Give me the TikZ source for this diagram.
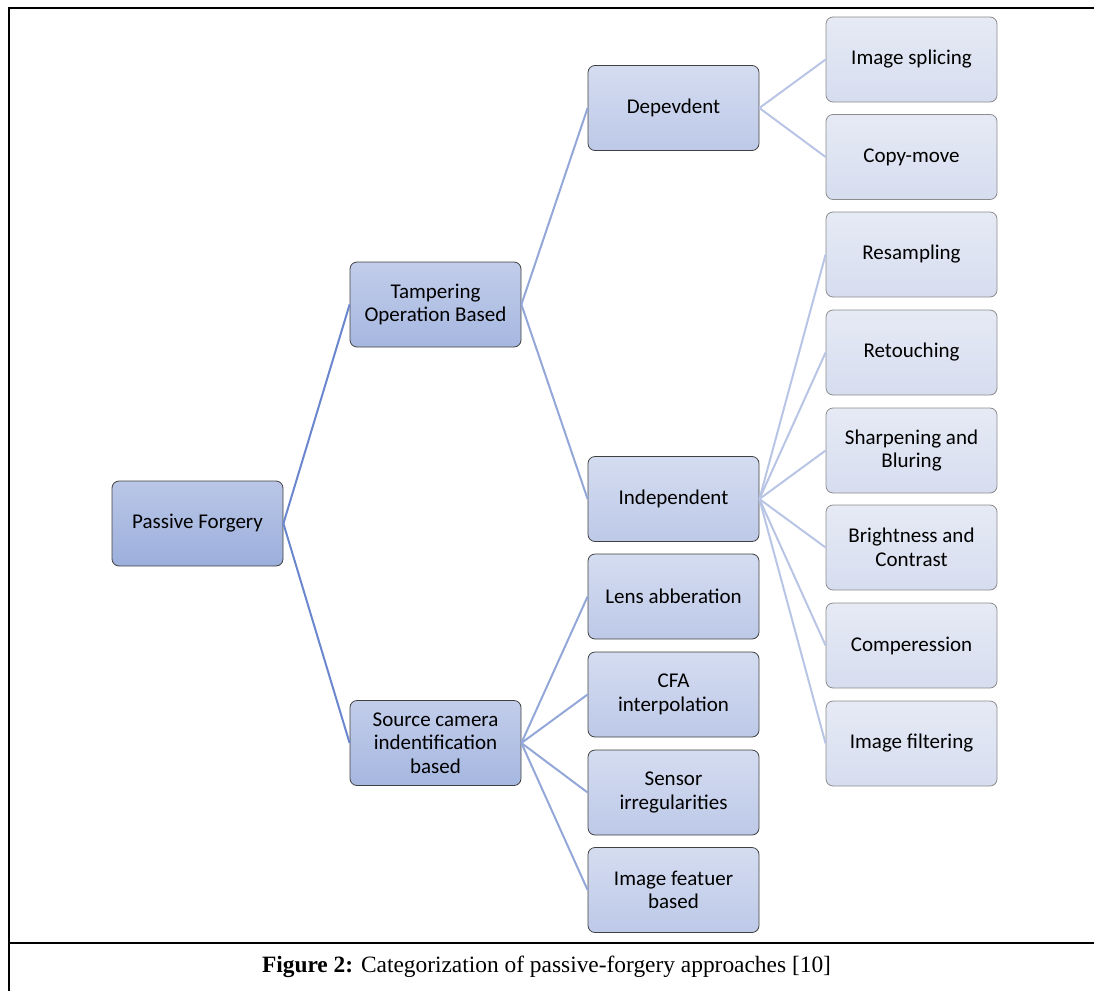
\documentclass[tikz,border=0pt]{standalone}
\usepackage{fontspec}
\setmainfont{Liberation Serif}
\newfontfamily\calib{Carlito}
\definecolor{cZt}{HTML}{B9C6E6}
\definecolor{cZb}{HTML}{9CAFDC}
\definecolor{cOt}{HTML}{C2CDEA}
\definecolor{cOb}{HTML}{A6B7E0}
\definecolor{cTt}{HTML}{D4DCF0}
\definecolor{cTb}{HTML}{BDC9E8}
\definecolor{cHt}{HTML}{E6EAF5}
\definecolor{cHb}{HTML}{D6DDEF}
\definecolor{lA}{HTML}{6A87CE}
\definecolor{lB}{HTML}{94A7D9}
\definecolor{lC}{HTML}{B9C5E5}
\begin{document}
\begin{tikzpicture}[x=1pt,y=-1pt,
  box/.style={rounded corners=7pt, minimum width=171pt, minimum height=85pt,
    align=center, inner sep=0pt, font=\calib\fontsize{21}{23.6}\selectfont,
    draw=black!75, line width=0.8pt},
  lvZ/.style={box, top color=cZt, bottom color=cZb},
  lvO/.style={box, top color=cOt, bottom color=cOb},
  lvT/.style={box, top color=cTt, bottom color=cTb},
  lvH/.style={box, top color=cHt, bottom color=cHb, draw=black!45},
  conA/.style={draw=lA, line width=2pt},
  conB/.style={draw=lB, line width=2pt},
  conC/.style={draw=lC, line width=2pt},
  frame/.style={line width=2.8pt, line cap=rect}
]
\useasboundingbox (0,0) rectangle (1094,990);

% frame
\coordinate (ftl) at (9,8);
\coordinate (ftr) at (1094,8);
\coordinate (fbl) at (9,990);
\coordinate (fsl) at (9,943);
\coordinate (fsr) at (1094,943);
\draw[frame] (fbl) -- (ftl) -- (ftr);
\draw[frame] (fsl) -- (fsr);

% level 0
\node[lvZ] (pf) at (197.5,523.5) {Passive Forgery};
% level 1
\node[lvO] (tob) at (435.5,304.5) {Tampering\\Operation Based};
\node[lvO] (sci) at (435.5,743) {Source camera\\indentification\\based};
% level 2
\node[lvT] (dep) at (673.5,108) {Depevdent};
\node[lvT] (ind) at (673.5,499) {Independent};
\node[lvT] (lens) at (673.5,596.5) {Lens abberation};
\node[lvT] (cfa) at (673.5,694.5) {CFA\\interpolation};
\node[lvT] (sens) at (673.5,792.5) {Sensor\\irregularities};
\node[lvT] (feat) at (673.5,890) {Image featuer\\based};
% level 3
\node[lvH] (spl) at (911.5,59.5) {Image splicing};
\node[lvH] (cpm) at (911.5,157) {Copy-move};
\node[lvH] (res) at (911.5,254.5) {Resampling};
\node[lvH] (ret) at (911.5,352.5) {Retouching};
\node[lvH] (shp) at (911.5,450.5) {Sharpening and\\Bluring};
\node[lvH] (bri) at (911.5,547.5) {Brightness and\\Contrast};
\node[lvH] (cmp) at (911.5,645.5) {Comperession};
\node[lvH] (flt) at (911.5,743.5) {Image filtering};

% connectors
\draw[conA] (pf.east) -- (tob.west);
\draw[conA] (pf.east) -- (sci.west);
\draw[conB] (tob.east) -- (dep.west);
\draw[conB] (tob.east) -- (ind.west);
\draw[conB] (sci.east) -- (lens.west);
\draw[conB] (sci.east) -- (cfa.west);
\draw[conB] (sci.east) -- (sens.west);
\draw[conB] (sci.east) -- (feat.west);
\draw[conC] (dep.east) -- (spl.west);
\draw[conC] (dep.east) -- (cpm.west);
\draw[conC] (ind.east) -- (res.west);
\draw[conC] (ind.east) -- (ret.west);
\draw[conC] (ind.east) -- (shp.west);
\draw[conC] (ind.east) -- (bri.west);
\draw[conC] (ind.east) -- (cmp.west);
\draw[conC] (ind.east) -- (flt.west);

% caption
\node[font=\fontsize{23.4}{27}\selectfont, inner sep=0pt] (cap) at (546.5,967)
  {\textbf{Figure 2:} Categorization of passive-forgery approaches [10]};
\end{tikzpicture}
\end{document}
